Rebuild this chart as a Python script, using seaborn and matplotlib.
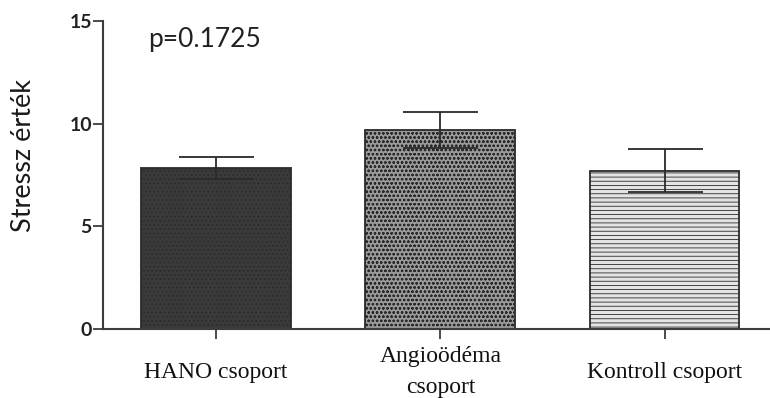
import numpy as np
import pandas as pd
import matplotlib
matplotlib.use("Agg")
import matplotlib.pyplot as plt
import seaborn as sns

groups = ["HANO csoport", "Angioödéma\ncsoport", "Kontroll csoport"]
means = [7.85, 9.70, 7.71]
sems = [0.53, 0.88, 1.05]
y_ticks = [0, 5, 10, 15]
p_label = "p=0.1725"

fills = ["#3a3a3a", "#9a9a9a", "#e4e4e4"]
hatch_colors = ["#7e7e7e", "#d2d2d2", "#cbcbcb"]
hatches = ["....", "oooo", "----"]

sns.set_theme(style="white")
plt.rcParams["hatch.linewidth"] = 0.6

df = pd.DataFrame({"group": groups, "mean": means, "sem": sems})

fig = plt.figure(figsize=(7.70, 3.98), dpi=100)
ax = fig.add_axes([0.1338, 0.1734, 0.8662, 0.7736])

sns.barplot(data=df, x="group", y="mean", hue="group", palette=fills,
            legend=False, width=0.668, edgecolor="#2a2a2a", linewidth=1.3,
            errorbar=None, ax=ax)

for patch, h, hc in zip(ax.patches, hatches, hatch_colors):
    patch.set_hatch(h)
    if hasattr(patch, "set_hatchcolor"):
        patch.set_hatchcolor(hc)

ax.errorbar(x=np.arange(len(groups)), y=df["mean"], yerr=df["sem"],
            fmt="none", ecolor="#2a2a2a", elinewidth=1.3, capsize=27,
            capthick=1.3, zorder=5)

ax.set_ylim(0, 15)
ax.set_xlim(-0.504, 2.47)
ax.set_yticks(y_ticks)
ax.set_yticklabels([str(t) for t in y_ticks], fontfamily="Lato",
                   fontweight="bold", fontsize=14, color="#222222")
ax.set_xticks(range(len(groups)))
ax.set_xticklabels(groups, fontfamily="Liberation Serif", fontsize=17,
                   linespacing=1.6, va="center", color="#111111")
ax.set_xlabel("")
ax.set_ylabel("Stressz érték", fontfamily="Lato", fontsize=19.5,
              color="#1a1a1a")
ax.yaxis.set_label_coords(-0.10, 0.565)

for side in ["top", "right"]:
    ax.spines[side].set_visible(False)
for side in ["left", "bottom"]:
    ax.spines[side].set_linewidth(1.5)
    ax.spines[side].set_color("#3c3c3c")

ax.tick_params(axis="both", which="major", direction="out", length=7,
               width=1.3, color="#3c3c3c", bottom=True, left=True)
ax.tick_params(axis="x", pad=24)
ax.tick_params(axis="y", pad=1)

ax.text(0.068, 0.94, p_label, transform=ax.transAxes, fontfamily="Lato",
        fontsize=19, color="#222222", va="center", ha="left")

fig.savefig("out.png", dpi=100)
